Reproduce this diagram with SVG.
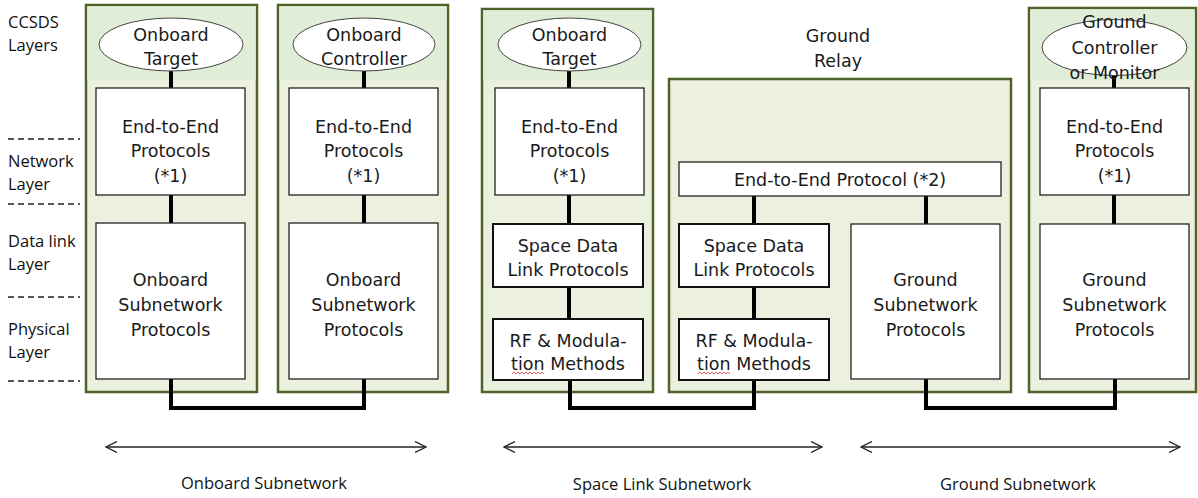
<svg xmlns="http://www.w3.org/2000/svg" width="1198" height="498" viewBox="0 0 1198 498">
<style>
.panel{fill:#ebf1de;stroke:#4f6228;stroke-width:2.5}
.ptop{fill:#e0eed7;stroke:none}
.box{fill:#fff;stroke:#222;stroke-width:1.3}
.box2{fill:#fff;stroke:#111;stroke-width:2}
.ell{fill:#fff;stroke:#444;stroke-width:1}
.t{font-family:"DejaVu Sans",Verdana,sans-serif;font-size:17.5px;fill:#1a1a1a;text-anchor:middle}
.lbl{font-family:"Open Sans","Noto Sans",sans-serif;font-size:16.5px;fill:#111}
.bl{font-family:"Open Sans","Noto Sans",sans-serif;font-size:16.5px;fill:#111;text-anchor:middle}
.dash{stroke:#222;stroke-width:1.3;stroke-dasharray:6 4;fill:none}
.link{fill:none;stroke:#000;stroke-width:4}
.span{stroke:#222;stroke-width:1.3;fill:none;marker-start:url(#chev);marker-end:url(#chev)}
.squig{fill:none;stroke:#e03030;stroke-width:0.8}
</style>
<defs>
<marker id="chev" viewBox="0 0 12 12" refX="11" refY="6" markerWidth="12" markerHeight="12" markerUnits="userSpaceOnUse" orient="auto-start-reverse">
<path d="M0,0.5 L11,6 L0,11.5" fill="none" stroke="#222" stroke-width="1.3"/>
</marker>
</defs>
<rect width="1198" height="498" fill="#fff"/>

<g id="layer-labels">
<text class="lbl" x="8" y="28">CCSDS</text>
<text class="lbl" x="8" y="51">Layers</text>
<line class="dash" x1="8" y1="139" x2="80" y2="139"/>
<text class="lbl" x="8" y="167">Network</text>
<text class="lbl" x="8" y="190">Layer</text>
<line class="dash" x1="8" y1="204" x2="80" y2="204"/>
<text class="lbl" x="8" y="247">Data link</text>
<text class="lbl" x="8" y="270">Layer</text>
<line class="dash" x1="8" y1="297" x2="80" y2="297"/>
<text class="lbl" x="8" y="335">Physical</text>
<text class="lbl" x="8" y="358">Layer</text>
<line class="dash" x1="8" y1="381" x2="80" y2="381"/>
</g>

<g id="panel-onboard-target">
<rect class="panel" x="86" y="5" width="171" height="387"/>
<rect class="ptop" x="87.3" y="6.3" width="168.4" height="74"/>
</g>
<g id="panel-onboard-controller">
<rect class="panel" x="278" y="5" width="170" height="387"/>
<rect class="ptop" x="279.3" y="6.3" width="167.4" height="74"/>
</g>
<g id="panel-space-target">
<rect class="panel" x="482" y="9" width="171" height="383"/>
<rect class="ptop" x="483.3" y="10.3" width="168.4" height="70"/>
</g>
<g id="panel-ground-relay">
<rect class="panel" x="669" y="79" width="342" height="313"/>
<text class="t" x="838" y="42">Ground</text>
<text class="t" x="838" y="67">Relay</text>
</g>
<g id="panel-ground-controller">
<rect class="panel" x="1029" y="8" width="167" height="384"/>
<rect class="ptop" x="1030.3" y="9.3" width="164.4" height="71"/>
</g>

<g id="connectors">
<line class="link" x1="171" y1="70" x2="171" y2="89"/>
<line class="link" x1="171" y1="195" x2="171" y2="224"/>
<line class="link" x1="364" y1="70" x2="364" y2="89"/>
<line class="link" x1="364" y1="195" x2="364" y2="224"/>
<line class="link" x1="569" y1="70" x2="569" y2="89"/>
<line class="link" x1="569" y1="195" x2="569" y2="225"/>
<line class="link" x1="569" y1="287" x2="569" y2="320"/>
<line class="link" x1="754" y1="196" x2="754" y2="225"/>
<line class="link" x1="754" y1="287" x2="754" y2="320"/>
<line class="link" x1="926" y1="196" x2="926" y2="225"/>
<line class="link" x1="1114" y1="75" x2="1114" y2="89"/>
<line class="link" x1="1114" y1="195" x2="1114" y2="225"/>
<path class="link" d="M171,378 V408 H364 V378"/>
<path class="link" d="M570,379 V408 H754 V379"/>
<path class="link" d="M926,378 V408 H1115 V378"/>
<line class="span" x1="106" y1="447" x2="426" y2="447"/>
<line class="span" x1="504" y1="447" x2="822" y2="447"/>
<line class="span" x1="861" y1="447" x2="1180" y2="447"/>
</g>

<g id="onboard-target">
<ellipse class="ell" cx="171" cy="44.5" rx="72" ry="26.5"/>
<text class="t" x="171" y="41">Onboard</text>
<text class="t" x="171" y="65">Target</text>
</g>
<g id="onboard-controller">
<ellipse class="ell" cx="364" cy="44.5" rx="71" ry="26.5"/>
<text class="t" x="364" y="41">Onboard</text>
<text class="t" x="364" y="65">Controller</text>
</g>
<g id="space-target">
<ellipse class="ell" cx="569.5" cy="44.5" rx="71.5" ry="26.5"/>
<text class="t" x="569.5" y="41">Onboard</text>
<text class="t" x="569.5" y="65">Target</text>
</g>
<g id="ground-controller">
<ellipse class="ell" cx="1114.5" cy="47.5" rx="72.5" ry="28"/>
<text class="t" x="1114.5" y="28">Ground</text>
<text class="t" x="1114.5" y="54">Controller</text>
<text class="t" x="1114.5" y="79">or Monitor</text>
</g>

<g id="e2e-1">
<rect class="box" x="96" y="88" width="149" height="107"/>
<text class="t" x="170.5" y="133">End-to-End</text>
<text class="t" x="170.5" y="157">Protocols</text>
<text class="t" x="170.5" y="182">(*1)</text>
</g>
<g id="e2e-2">
<rect class="box" x="289" y="88" width="149" height="107"/>
<text class="t" x="363.5" y="133">End-to-End</text>
<text class="t" x="363.5" y="157">Protocols</text>
<text class="t" x="363.5" y="182">(*1)</text>
</g>
<g id="e2e-3">
<rect class="box" x="495" y="88" width="149" height="107"/>
<text class="t" x="569.5" y="133">End-to-End</text>
<text class="t" x="569.5" y="157">Protocols</text>
<text class="t" x="569.5" y="182">(*1)</text>
</g>
<g id="e2e-relay">
<rect class="box" x="679" y="162" width="322" height="34"/>
<text class="t" x="840" y="186">End-to-End Protocol (*2)</text>
</g>
<g id="e2e-5">
<rect class="box" x="1040" y="88" width="149" height="107"/>
<text class="t" x="1114.5" y="133">End-to-End</text>
<text class="t" x="1114.5" y="157">Protocols</text>
<text class="t" x="1114.5" y="182">(*1)</text>
</g>

<g id="onboard-subnet-1">
<rect class="box" x="96" y="223" width="149" height="156"/>
<text class="t" x="170.5" y="286">Onboard</text>
<text class="t" x="170.5" y="311">Subnetwork</text>
<text class="t" x="170.5" y="336">Protocols</text>
</g>
<g id="onboard-subnet-2">
<rect class="box" x="289" y="223" width="149" height="156"/>
<text class="t" x="363.5" y="286">Onboard</text>
<text class="t" x="363.5" y="311">Subnetwork</text>
<text class="t" x="363.5" y="336">Protocols</text>
</g>

<g id="sdlp-1">
<rect class="box2" x="493" y="224" width="150" height="63"/>
<text class="t" x="568" y="252">Space Data</text>
<text class="t" x="568" y="276">Link Protocols</text>
</g>
<g id="rf-1">
<rect class="box2" x="493" y="319" width="150" height="61"/>
<text class="t" x="568" y="347">RF &amp; Modula-</text>
<text class="t" x="568" y="370">tion Methods</text>
<path class="squig" d="M512,374 l2,-2 l2,2 l2,-2 l2,2 l2,-2 l2,2 l2,-2 l2,2 l2,-2 l2,2 l2,-2 l2,2 l2,-2 l2,2 l2,-2 l2,2"/>
</g>
<g id="sdlp-2">
<rect class="box2" x="679" y="224" width="150" height="63"/>
<text class="t" x="754" y="252">Space Data</text>
<text class="t" x="754" y="276">Link Protocols</text>
</g>
<g id="rf-2">
<rect class="box2" x="679" y="319" width="150" height="61"/>
<text class="t" x="754" y="347">RF &amp; Modula-</text>
<text class="t" x="754" y="370">tion Methods</text>
<path class="squig" d="M698,374 l2,-2 l2,2 l2,-2 l2,2 l2,-2 l2,2 l2,-2 l2,2 l2,-2 l2,2 l2,-2 l2,2 l2,-2 l2,2 l2,-2 l2,2"/>
</g>

<g id="ground-subnet-1">
<rect class="box" x="851" y="224" width="149" height="155"/>
<text class="t" x="925.5" y="286">Ground</text>
<text class="t" x="925.5" y="311">Subnetwork</text>
<text class="t" x="925.5" y="336">Protocols</text>
</g>
<g id="ground-subnet-2">
<rect class="box" x="1040" y="224" width="149" height="155"/>
<text class="t" x="1114.5" y="286">Ground</text>
<text class="t" x="1114.5" y="311">Subnetwork</text>
<text class="t" x="1114.5" y="336">Protocols</text>
</g>

<g id="span-labels">
<text class="bl" x="264" y="489">Onboard Subnetwork</text>
<text class="bl" x="662" y="490">Space Link Subnetwork</text>
<text class="bl" x="1018" y="490">Ground Subnetwork</text>
</g>
</svg>
